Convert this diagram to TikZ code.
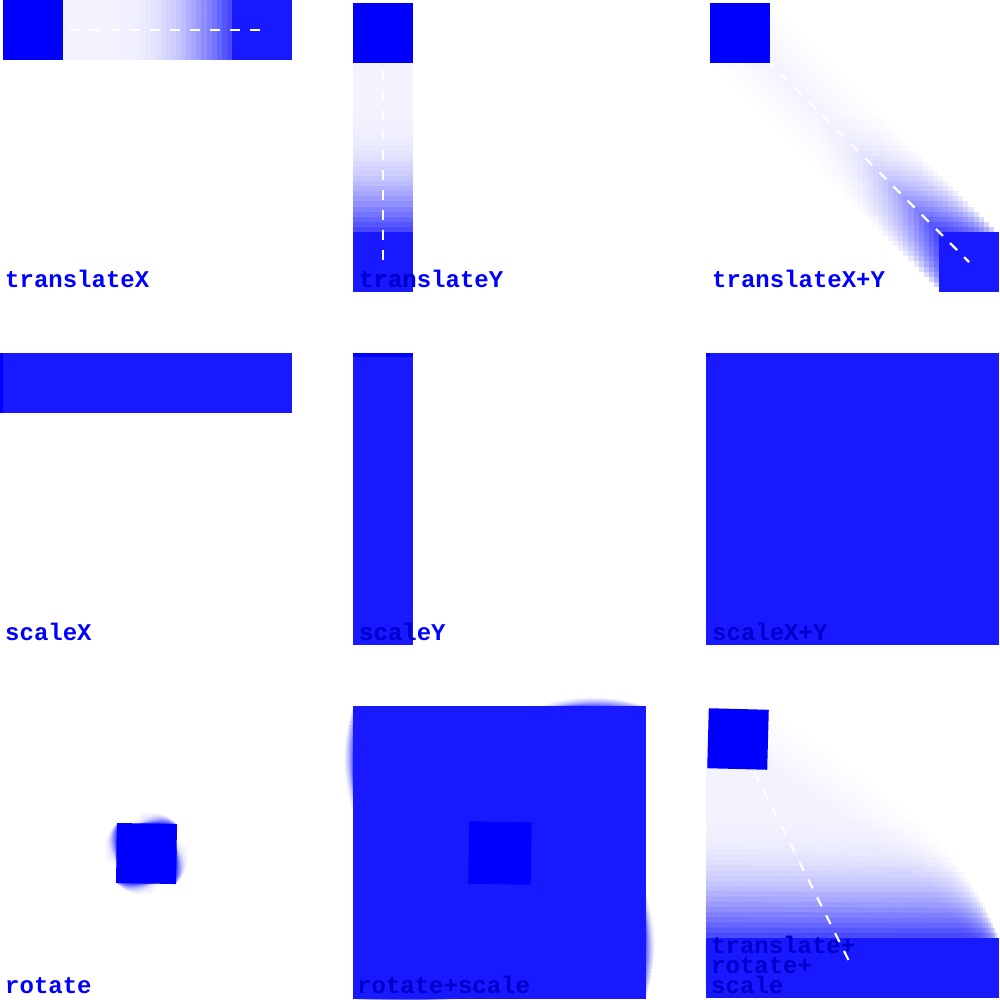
\documentclass[tikz,border=0pt]{standalone}
\usepackage{fontspec}
\setmonofont{Liberation Mono}

\definecolor{endblue}{rgb}{0.1,0.1,1}
\definecolor{darkblue}{rgb}{0,0,0.8}

% trail of faded copies: #1 copies, #2 placement of copy (uses \tm), #3 path
\newcommand{\ghosttrail}[3]{%
  \pgfmathtruncatemacro\lastcopy{#1-1}%
  \foreach \i in {1,...,\lastcopy}{%
    \pgfmathsetmacro\tm{\i/#1}%
    \pgfmathsetmacro\alp{0.15/#1+9.5/#1*\tm^6}%
    \pgfmathsetmacro\sw{1+3.883*(\tm+0.65*\tm*(1-\tm))}%
    \fill[ghost=\alp, #2] #3;%
  }}

\begin{document}
\begin{tikzpicture}[
    x=1pt, y=-1pt,
    celltext/.style={anchor=base west, inner sep=0pt, text=blue, align=left,
        font=\ttfamily\bfseries\fontsize{24}{20}\selectfont},
    hidtext/.style={celltext, text=darkblue},
    startbox/.style={fill=blue},
    endbox/.style={fill=endblue},
    ghost/.style={fill=blue, fill opacity=#1},
    track/.style={draw=white, line width=2.2pt, dash pattern=on 10pt off 10pt, dash phase=3pt}
]

\fill[white] (0,0) rectangle (1000,1000);
\useasboundingbox (0,0) rectangle (1000,1000);

% translateX
\ghosttrail{45}{shift={({33+229*\tm},30)}}{(-30,-30) rectangle (30,30)}
\fill[endbox] (232,0) rectangle (292,60);
\node[celltext] (tx) at (5,287) {translateX};
\coordinate (tx0) at (33,30);
\coordinate (tx1) at (262,30);
\draw[track] (tx0) -- (tx1);
\fill[startbox] (3,0) rectangle (63,60);

% translateY
\ghosttrail{45}{shift={(383,{33+229*\tm})}}{(-30,-30) rectangle (30,30)}
\fill[endbox] (353,232) rectangle (413,292);
\node[celltext] (ty) at (359,287) {translateY};
\begin{scope}
  \clip (353,232) rectangle (413,292);
  \node[hidtext] (tydim) at (ty.base west) {translateY};
\end{scope}
\coordinate (ty0) at (383,33);
\coordinate (ty1) at (383,262);
\draw[track] (ty0) -- (ty1);
\fill[startbox] (353,3) rectangle (413,63);

% translateX+Y
\ghosttrail{45}{shift={({740+229*\tm},{33+229*\tm})}}{(-30,-30) rectangle (30,30)}
\fill[endbox] (939,232) rectangle (999,292);
\node[celltext] (txy) at (712,287) {translateX+Y};
\coordinate (txy0) at (740,33);
\coordinate (txy1) at (969,262);
\draw[track] (txy0) -- (txy1);
\fill[startbox] (710,3) rectangle (770,63);

% scaleX
\fill[endbox] (0,353) rectangle (292,413);
\fill[startbox] (0,353) rectangle (3,413);
\node[celltext] (sx) at (5,640) {scaleX};

% scaleY
\fill[endbox] (353,353) rectangle (413,645);
\fill[startbox] (353,353) rectangle (413,357);
\node[celltext] (sy) at (359,640) {scaleY};
\begin{scope}
  \clip (353,353) rectangle (413,645);
  \node[hidtext] (sydim) at (sy.base west) {scaleY};
\end{scope}

% scaleX+Y
\fill[endbox] (706,353) rectangle (999,645);
\fill[startbox] (706,353) rectangle (710,357);
\node[hidtext] (sxy) at (712,640) {scaleX+Y};

% rotate
\ghosttrail{90}{shift={(146.5,853.5)}, rotate={-1-90*\tm}}{(-30,-30) rectangle (30,30)}
\fill[startbox, shift={(146.5,853.5)}, rotate=-1] (-30,-30) rectangle (30,30);
\node[celltext] (rot) at (5,993) {rotate};

% rotate+scale
\ghosttrail{90}{shift={(499.5,852.5)}, rotate={-1-89*\tm}, scale={1.04+3.84*\tm}}{(-30,-30) rectangle (30,30)}
\fill[endbox, shift={(499.5,852.5)}, scale=4.88] (-30,-30) rectangle (30,30);
\node[hidtext] (rs) at (357,993) {rotate+scale};
\fill[startbox, shift={(500,853)}, rotate=-1, scale=1.04] (-30,-30) rectangle (30,30);

% translate+rotate+scale
\ghosttrail{45}{shift={({706+30*\sw},{737+231*\tm})}, rotate={-1.5*(1-\tm)}, xscale=\sw}{(-30,-30) rectangle (30,30)}
\fill[endbox] (706,938) rectangle (999,998);
\node[hidtext] (trs) at (711,993) {translate+\\rotate+\\scale};
\coordinate (trs0) at (738,739);
\coordinate (trs1) at (852.5,968);
\draw[track] (trs0) -- (trs1);
\fill[startbox, shift={(738,739)}, rotate=-1.5] (-30,-30) rectangle (30,30);

\end{tikzpicture}
\end{document}
